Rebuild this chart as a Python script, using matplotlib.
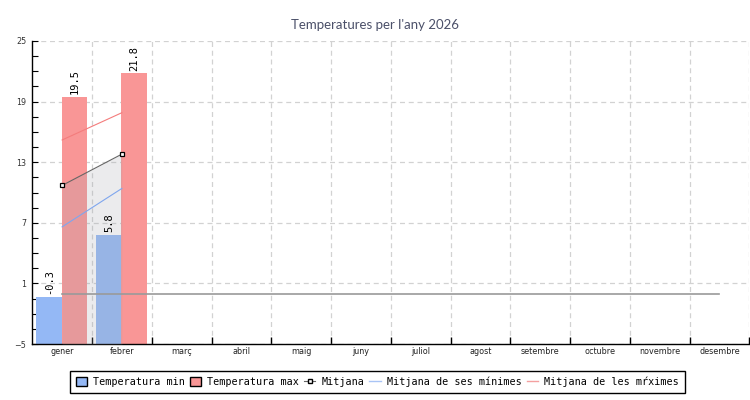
import matplotlib.pyplot as plt
from matplotlib.patches import Patch
from matplotlib.lines import Line2D

mesos = ['gener', 'febrer', 'març', 'abril', 'maig', 'juny', 'juliol',
         'agost', 'setembre', 'octubre', 'novembre', 'desembre']
temp_min = [-0.3, 5.8]
temp_max = [19.5, 21.8]
mitjana = [10.7, 13.8]
mitjana_minimes = [6.6, 10.4]
mitjana_maximes = [15.2, 17.9]
linia_base = [0, 0, 0, 0, 0, 0, 0, 0, 0, 0, 0, 0]

blau = '#94b8f5'
vermell = '#f99696'
ymin, ymax = -5, 25

fig = plt.figure(figsize=(7.5, 4), dpi=100)
ax = fig.add_axes([0.043, 0.14, 0.956, 0.7575])

x = list(range(len(temp_min)))
xb = [i - 0.215 for i in x]
xr = [i + 0.205 for i in x]
ax.bar(xb, [v - ymin for v in temp_min], bottom=ymin, width=0.43, color=blau, zorder=2)
ax.bar(xr, [v - ymin for v in temp_max], bottom=ymin, width=0.43, color=vermell, zorder=2)

for xs, vals in [(xb, temp_min), (xr, temp_max)]:
    for xi, v in zip(xs, vals):
        ax.annotate(f'{v}', (xi, v), xytext=(0, 2), textcoords='offset points',
                    rotation=90, ha='center', va='bottom',
                    family='DejaVu Sans Mono', fontsize=7.5, zorder=6)

# area under mitjana
ax.fill_between(x, mitjana, ymin, color='#a4a6ae', alpha=0.22, lw=0, zorder=3)

ax.plot(range(len(linia_base)), linia_base, color='#9a9a9a', lw=1.2, zorder=4)
ax.plot(x, mitjana_minimes, color='#7fa6ee', lw=0.8, zorder=4)
ax.plot(x, mitjana_maximes, color='#f47c7c', lw=0.8, zorder=4)
ax.plot(x, mitjana, color='#666666', lw=0.8, marker='s', ms=3.5,
        mfc='white', mec='black', mew=0.9, zorder=5)

ax.set_xlim(-0.5, 11.5)
ax.set_ylim(ymin, ymax)

ax.set_xticks([i + 0.5 for i in range(12)])
ax.set_xticks(range(12), minor=True)
ax.set_xticklabels(mesos, minor=True)
ax.tick_params(axis='x', which='major', direction='in', length=5, width=1,
               labelbottom=False)
ax.tick_params(axis='x', which='minor', length=0, labelsize=5.8, pad=2.5,
               colors='#222222')

ax.set_yticks([-5, 1, 7, 13, 19, 25])
ax.set_yticks([-5 + 1.5 * k for k in range(21)], minor=True)
ax.tick_params(axis='y', which='both', direction='in', length=4, width=0.8,
               labelsize=5.8, pad=4.3, labelcolor='#333333')

ax.grid(axis='both', which='major', color='#d2d2d2', ls=(0, (4, 3)), lw=0.9, zorder=0)
ax.set_axisbelow(True)

for s in ['top', 'right']:
    ax.spines[s].set_visible(False)
for s in ['left', 'bottom']:
    ax.spines[s].set_linewidth(1.0)

fig.text(0.5, 0.9375, "Temperatures per l'any 2026", ha='center', va='center',
         fontsize=9.5, color='#4b5069', family='Lato')

handles = [
    Patch(facecolor=blau, edgecolor='black', lw=1),
    Patch(facecolor=vermell, edgecolor='black', lw=1),
    Line2D([], [], color='#666666', lw=0.8, marker='s', ms=3, mfc='white', mec='black'),
    Line2D([], [], color='#a9c4f5', lw=1),
    Line2D([], [], color='#f4a0a0', lw=1),
]
labels = ['Temperatura min', 'Temperatura max', 'Mitjana',
          'Mitjana de ses mínimes', 'Mitjana de les mŕximes']
leg = fig.legend(handles, labels, loc='center', bbox_to_anchor=(0.503, 0.045), ncol=5,
                 frameon=True, fancybox=False, edgecolor='black', framealpha=1,
                 prop={'family': 'DejaVu Sans Mono', 'size': 7.3},
                 handlelength=1.1, handleheight=1.0, handletextpad=0.6,
                 columnspacing=0.5, borderpad=0.6, borderaxespad=0)
leg.get_frame().set_linewidth(1.0)

fig.savefig('out.png', dpi=100)
